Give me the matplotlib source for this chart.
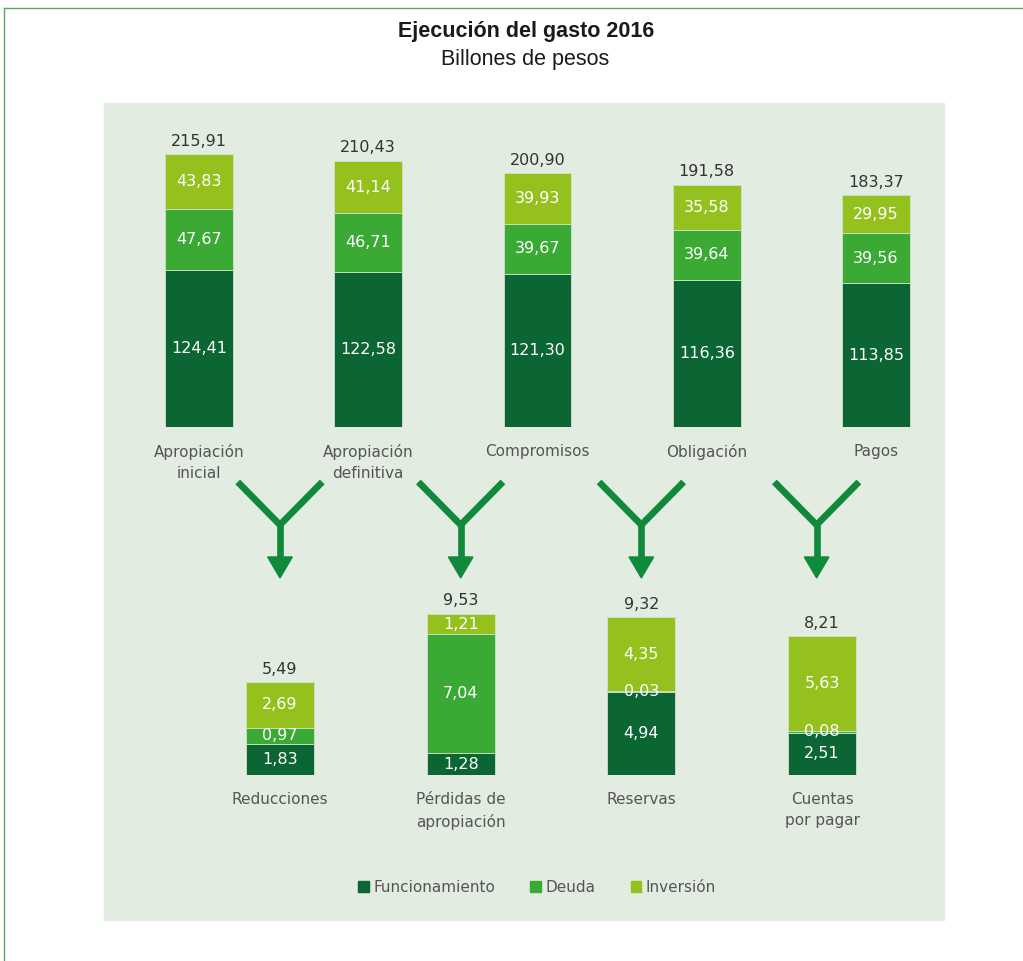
import numpy as np
import matplotlib
matplotlib.use("Agg")
import matplotlib.pyplot as plt
from matplotlib.patches import Rectangle, Polygon
from matplotlib.lines import Line2D

# Data
top_cats = ["Apropiación\ninicial", "Apropiación\ndefinitiva", "Compromisos", "Obligación", "Pagos"]
top_func = [124.41, 122.58, 121.30, 116.36, 113.85]
top_deuda = [47.67, 46.71, 39.67, 39.64, 39.56]
top_inv = [43.83, 41.14, 39.93, 35.58, 29.95]
top_total = [215.91, 210.43, 200.90, 191.58, 183.37]

bot_cats = ["Reducciones", "Pérdidas de\napropiación", "Reservas", "Cuentas\npor pagar"]
bot_func = [1.83, 1.28, 4.94, 2.51]
bot_deuda = [0.97, 7.04, 0.03, 0.08]
bot_inv = [2.69, 1.21, 4.35, 5.63]
bot_total = [5.49, 9.53, 9.32, 8.21]

series_names = ["Funcionamiento", "Deuda", "Inversión"]
colors = ["#0b6634", "#3aaa35", "#95c11f"]
panel_color = "#e2ece1"
arrow_color = "#10893a"
text_color = "#555555"

W, H = 1023, 961
def fx(x):
    return x / W
def fy(y):
    return 1 - y / H

fig = plt.figure(figsize=(W / 100, H / 100), dpi=100)
fig.patch.set_facecolor("white")

# background panel and border
fig.patches.append(Rectangle((fx(104), fy(920)), 840 / W, 817 / H,
                             transform=fig.transFigure, color=panel_color, zorder=-5))
fig.add_artist(Line2D([fx(4), fx(4)], [0, fy(8)], color="#5aa85a", lw=1))
fig.add_artist(Line2D([fx(4), 1], [fy(8), fy(8)], color="#5aa85a", lw=1))

fig.text(fx(526), fy(31), "Ejecución del gasto 2016", ha="center", va="center",
         fontsize=15.5, fontweight="bold", family="Liberation Sans", color="#1a1a1a")
fig.text(fx(525), fy(60), "Billones de pesos", ha="center", va="center",
         fontsize=15.5, family="Liberation Sans", color="#1a1a1a")


def stacked(ax, cats, func, deuda, inv, total, width):
    x = np.arange(len(cats))
    b0 = np.zeros(len(cats))
    for vals, c in zip([func, deuda, inv], colors):
        vals = np.array(vals)
        ax.bar(x, vals, width, bottom=b0, color=c, edgecolor="#cfe0cc", linewidth=0.6)
        for xi, b, v in zip(x, b0, vals):
            ax.text(xi, b + v / 2, f"{v:.2f}".replace(".", ","), ha="center", va="center",
                    color="white", fontsize=11.5)
        b0 = b0 + vals
    for xi, t in zip(x, total):
        ax.annotate(f"{t:.2f}".replace(".", ","), (xi, t), xytext=(0, 4),
                    textcoords="offset points", ha="center", va="bottom",
                    fontsize=11.5, color="#333333")
    for xi, c in zip(x, cats):
        ax.annotate(c, (xi, 0), xytext=(0, -12), textcoords="offset points",
                    ha="center", va="top", fontsize=11, color=text_color, linespacing=1.55)
    ax.axis("off")


ax_top = fig.add_axes([fx(104), fy(427), 840 / W, 287 / H])
ax_top.set_xlim(-0.561, 4.402)
ax_top.set_ylim(0, 287 / 1.264)
stacked(ax_top, top_cats, top_func, top_deuda, top_inv, top_total, 0.40)

ax_bot = fig.add_axes([fx(104), fy(775), 840 / W, 186 / H])
ax_bot.set_xlim(-0.974, 3.675)
ax_bot.set_ylim(0, 186 / 16.9)
stacked(ax_bot, bot_cats, bot_func, bot_deuda, bot_inv, bot_total, 0.376)

# Y-shaped arrows above the lower bars
for i in range(len(bot_cats)):
    xc = i - (0.03 if i == 3 else 0)
    arm_y, join_y, neck_y, tip_y = 17.2, 14.8, 12.9, 11.66
    ax_bot.add_line(Line2D([xc - 0.221, xc, xc + 0.221], [arm_y, join_y, arm_y],
                           color=arrow_color, lw=4.8, clip_on=False, solid_joinstyle="miter"))
    ax_bot.add_line(Line2D([xc, xc], [join_y, neck_y + 0.1], color=arrow_color, lw=4.8,
                           clip_on=False))
    ax_bot.add_patch(Polygon([[xc - 0.068, neck_y], [xc + 0.068, neck_y], [xc, tip_y]],
                             closed=True, color=arrow_color, clip_on=False))

handles = [Rectangle((0, 0), 1, 1, color=c) for c in colors]
fig.legend(handles, series_names, loc="center", bbox_to_anchor=(fx(537), fy(887)),
           ncol=3, frameon=False, fontsize=11, handlelength=0.7, handleheight=0.7,
           handletextpad=0.3, columnspacing=2.3, labelcolor=text_color)

fig.savefig("out.png", dpi=100)
